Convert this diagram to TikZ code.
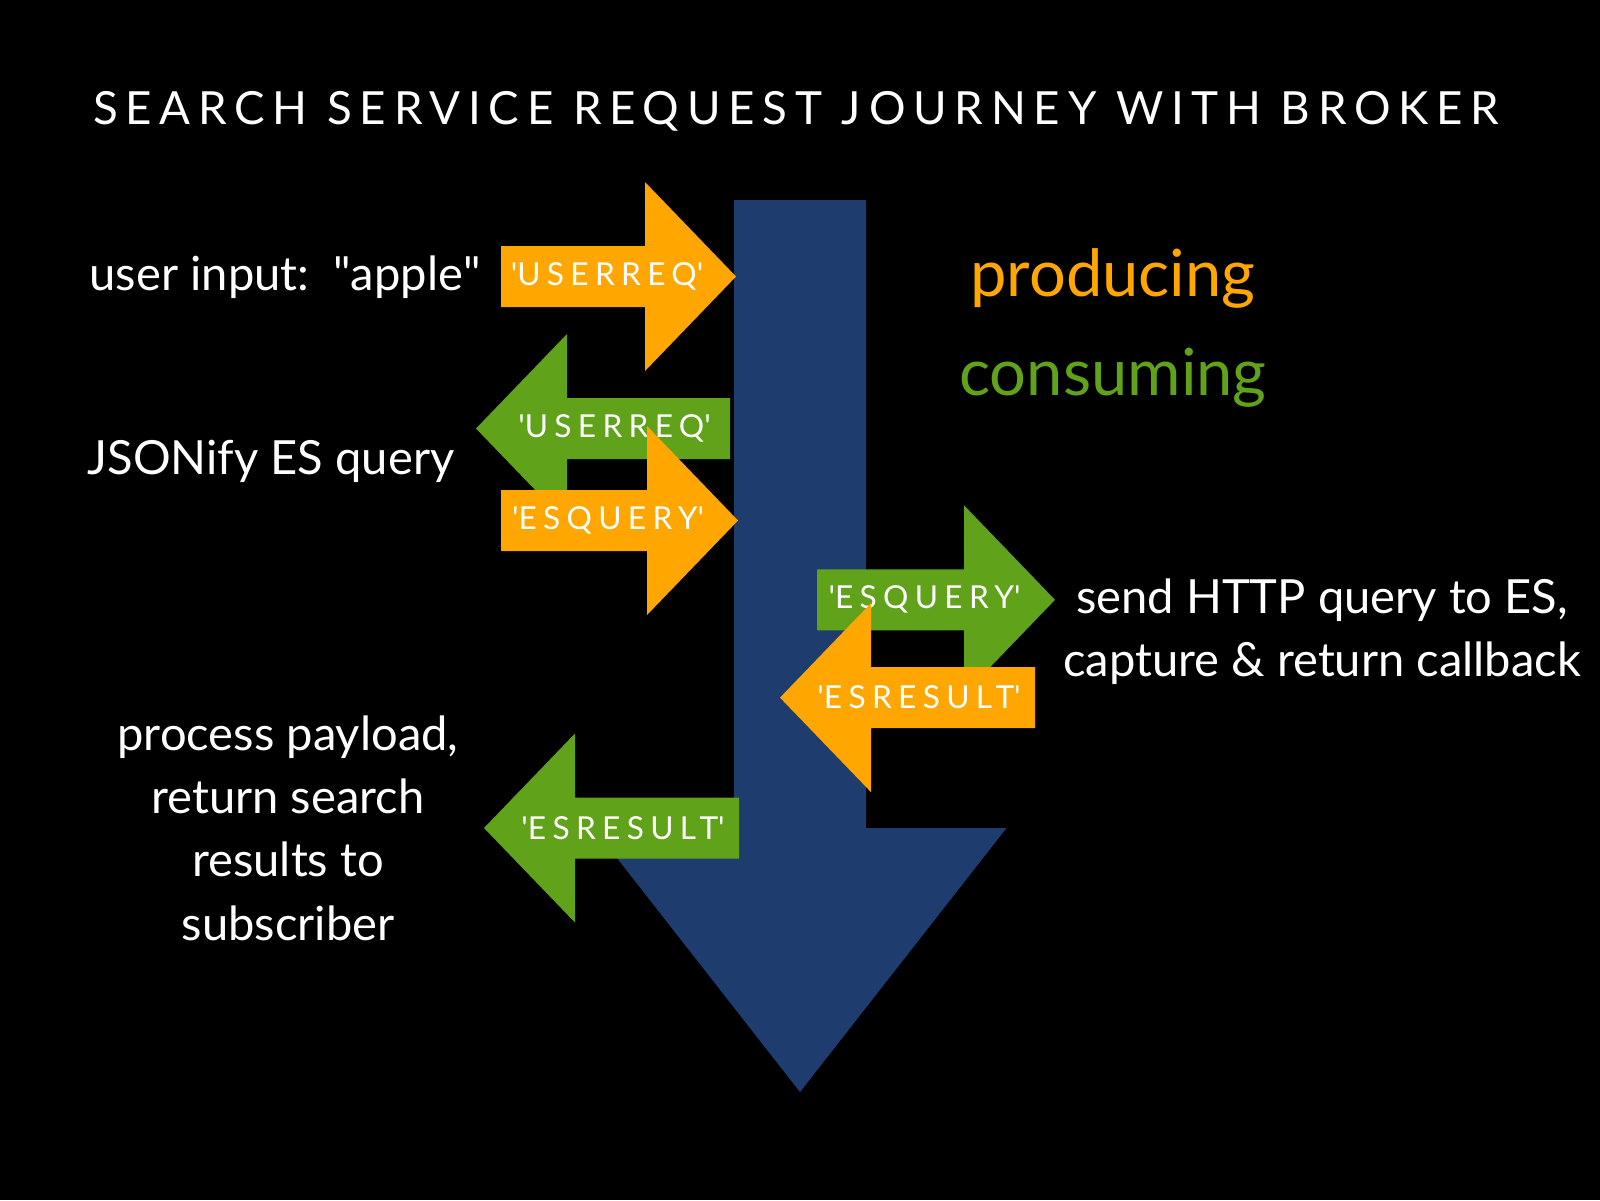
\documentclass[tikz,border=0pt]{standalone}
\usepackage{fontspec}
\setmainfont{Lato}
\usetikzlibrary{positioning,calc}
\definecolor{produce}{HTML}{FFA700}
\definecolor{consume}{HTML}{60A31A}
\definecolor{broker}{HTML}{1F3C6E}

\begin{document}
\begin{tikzpicture}[
  text=white,
  title/.style={font=\fontsize{13}{16}\selectfont\addfontfeatures{LetterSpace=17}, inner sep=0pt},
  note/.style={font=\fontsize{13.4}{18}\selectfont, align=center, inner sep=0pt},
  legend/.style={font=\fontsize{18.5}{22}\selectfont, inner sep=0pt},
  tag/.style={font=\fontsize{9}{11}\selectfont\addfontfeatures{LetterSpace=20}, inner sep=0pt}]

% slide background
\fill[black] (0,0) rectangle (16,-12);

\node[title] (head) at (7.96,-1.11) {SEARCH SERVICE REQUEST JOURNEY WITH BROKER};

% the broker pipeline
\fill[broker] (7.34,-2.00) -- (8.66,-2.00) -- (8.66,-8.28) -- (10.065,-8.28)
  -- (8.00,-10.92) -- (5.935,-8.28) -- (7.34,-8.28) -- cycle;

% tail/tip/height/colour/topic
\foreach \tl/\tp/\y/\col/\topic [count=\i] in {
    5.01/7.36/2.765/produce/USERREQ,
    7.30/4.76/4.285/consume/USERREQ,
    5.01/7.38/5.205/produce/ESQUERY,
    8.17/10.55/5.998/consume/ESQUERY,
    10.35/7.80/6.976/produce/ESRESULT,
    7.39/4.84/8.28/consume/ESRESULT}{
  \pgfmathsetmacro\hb{\tp-0.91*sign(\tp-\tl)}
  \pgfmathsetmacro\tx{(\tl+\tp)/2-0.115*sign(\tp-\tl)}
  \fill[\col] (\tl,-\y+0.305) -- (\hb,-\y+0.305) -- (\hb,-\y+0.945) -- (\tp,-\y)
    -- (\hb,-\y-0.945) -- (\hb,-\y-0.305) -- (\tl,-\y-0.305) -- cycle;
  \node[tag] (tag\i) at (\tx,-\y) {\textquotesingle\topic\textquotesingle};
}

\node[note, anchor=west] (input) at (0.89,-2.77) {user input:\ \ \textquotedbl apple\textquotedbl};
\node[note, anchor=west] (jsonify) at (0.87,-4.61) {JSONify ES query};
\node[note] (process) at (2.88,-8.28) {process payload,\\return search\\results to\\subscriber};
\node[note] (send) at (13.22,-6.32) {send HTTP query to ES,\\capture \& return callback};

\node[legend, text=produce] (producing) at (11.13,-2.78) {producing};
\node[legend, text=consume] (consuming) at (11.13,-3.78) {consuming};
\end{tikzpicture}
\end{document}
